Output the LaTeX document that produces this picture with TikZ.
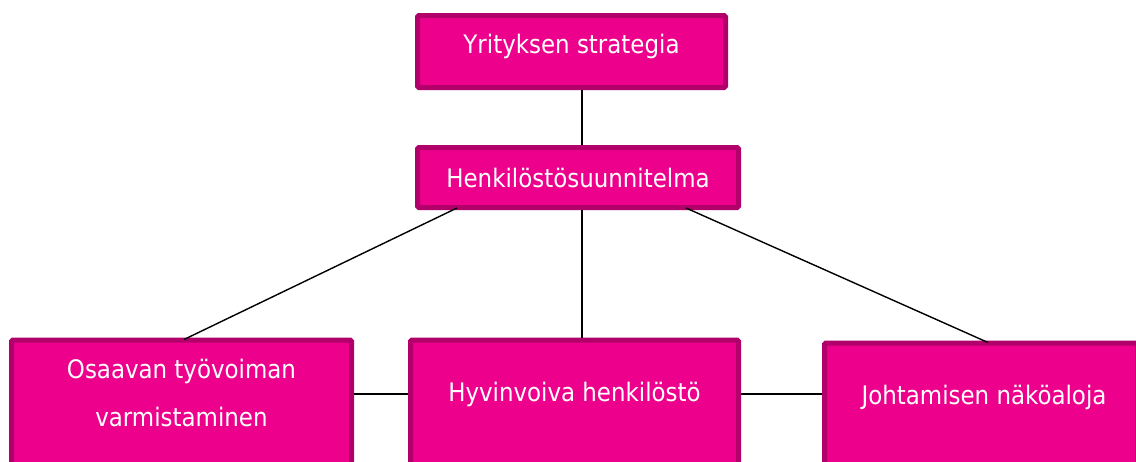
\documentclass[tikz,border=0pt]{standalone}
\usepackage{fontspec}
\setmainfont{DejaVu Sans Condensed}
\begin{document}
\begin{tikzpicture}[x=1pt,y=-1pt,
  box/.style={draw=boxedge, fill=boxfill, line width=5pt, rounded corners=1.5pt, inner sep=0pt},
  lbl/.style={text=white, font=\fontsize{25.5}{48}\selectfont, align=center},
  link/.style={draw=black, line width=1.4pt}]
\definecolor{boxfill}{HTML}{EC008C}
\definecolor{boxedge}{HTML}{B1006A}
\useasboundingbox (0,0) rectangle (1136,461);
\clip (0,0) rectangle (1136,461);

% top level boxes
\node[box, minimum width=308pt, minimum height=72pt] (strat) at (571.5,51.5) {};
\node[lbl] (stratT) at (571.5,46) {Yrityksen strategia};
\node[box, minimum width=321pt, minimum height=60pt] (plan) at (578,177.5) {};
\node[lbl] (planT) at (578,178) {Henkilöstösuunnitelma};

% lower row, running past the bottom edge
\node[box, minimum width=340pt, minimum height=200pt] (osa) at (181.5,440) {};
\node[lbl] (osaT) at (181.5,393) {Osaavan työvoiman\\varmistaminen};
\node[box, minimum width=328pt, minimum height=200pt] (hyv) at (574.5,440) {};
\node[lbl] (hyvT) at (574.5,394) {Hyvinvoiva henkilöstö};
\node[box, minimum width=313pt, minimum height=200pt] (joh) at (981,443) {};
\node[lbl] (johT) at (984,397) {Johtamisen näköaloja};

% connectors
\draw[link] ([xshift=10.5pt]strat.south) -- ([xshift=4pt]plan.north);
\draw[link] ([xshift=-121pt,yshift=2pt]plan.south) -- ([xshift=2.5pt,yshift=-2pt]osa.north);
\draw[link] ([xshift=4pt]plan.south) -- ([xshift=7.5pt]hyv.north);
\draw[link] ([xshift=108pt,yshift=2pt]plan.south) -- ([xshift=7pt,yshift=-2pt]joh.north);
\draw[link] (osa.east |- hyvT) -- (hyv.west |- hyvT);
\draw[link] (hyv.east |- hyvT) -- (joh.west |- hyvT);
\end{tikzpicture}
\end{document}
